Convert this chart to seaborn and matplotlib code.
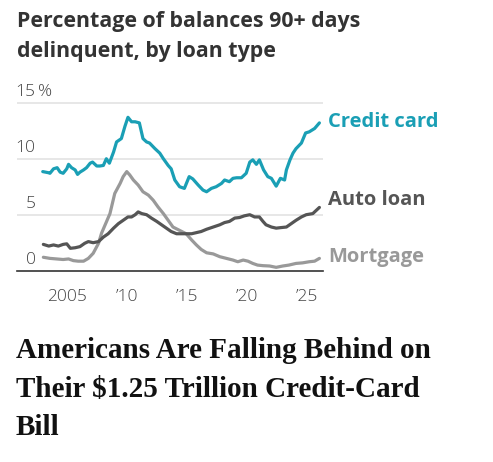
import matplotlib
matplotlib.use("Agg")
import matplotlib.pyplot as plt
import seaborn as sns
import pandas as pd

# === datos (% de saldos con 90+ días de mora)
credit_years = [2003.0, 2003.48, 2003.6, 2003.9, 2004.2, 2004.45, 2004.7, 2005.0, 2005.15, 2005.4,
                2005.7, 2005.9, 2006.1, 2006.4, 2006.65, 2006.95, 2007.15, 2007.5, 2007.75, 2008.05,
                2008.3, 2008.55, 2008.9, 2009.15, 2009.55, 2009.85, 2010.1, 2010.4, 2010.7, 2011.05,
                2011.35, 2011.65, 2011.9, 2012.35, 2012.75, 2013.05, 2013.45, 2013.7, 2014.0, 2014.4,
                2014.8, 2015.2, 2015.5, 2015.95, 2016.35, 2016.65, 2017.05, 2017.45, 2017.9, 2018.15,
                2018.55, 2018.85, 2019.15, 2019.55, 2019.95, 2020.25, 2020.5, 2020.8, 2021.05, 2021.4,
                2021.75, 2022.05, 2022.45, 2022.8, 2023.15, 2023.3, 2023.6, 2023.85, 2024.1, 2024.55,
                2024.9, 2025.2, 2025.65, 2026.05]
credit_card = [8.85, 8.75, 8.7, 9.1, 9.2, 8.8, 8.7, 9.1, 9.5, 9.2,
               9.0, 8.6, 8.8, 9.0, 9.2, 9.6, 9.7, 9.35, 9.35, 9.4,
               10.0, 9.6, 10.6, 11.5, 11.8, 12.9, 13.7, 13.3, 13.3, 13.2,
               11.8, 11.5, 11.4, 10.9, 10.5, 10.0, 9.4, 9.1, 8.1, 7.5,
               7.35, 8.4, 8.2, 7.65, 7.2, 7.05, 7.35, 7.5, 7.8, 8.1,
               7.95, 8.25, 8.3, 8.3, 8.7, 9.7, 9.9, 9.5, 9.9, 9.0,
               8.4, 8.25, 7.55, 8.25, 8.1, 9.0, 9.9, 10.5, 10.9, 11.4,
               12.3, 12.4, 12.7, 13.2]

auto_years = [2003.05, 2003.5, 2003.9, 2004.3, 2004.7, 2005.0, 2005.3, 2005.7, 2006.1, 2006.5,
              2006.8, 2007.2, 2007.65, 2008.05, 2008.45, 2008.9, 2009.3, 2009.7, 2010.1, 2010.4,
              2010.7, 2010.95, 2011.25, 2011.65, 2012.05, 2012.5, 2012.9, 2013.3, 2013.7, 2014.15,
              2014.55, 2014.95, 2015.4, 2015.8, 2016.2, 2016.65, 2017.2, 2017.75, 2018.15, 2018.55,
              2019.0, 2019.4, 2019.8, 2020.25, 2020.65, 2021.05, 2021.35, 2021.6, 2022.05, 2022.45,
              2022.85, 2023.3, 2023.7, 2024.1, 2024.55, 2024.95, 2025.5, 2026.05]
auto_loan = [2.35, 2.2, 2.3, 2.2, 2.35, 2.4, 2.0, 2.05, 2.15, 2.45,
             2.6, 2.5, 2.6, 3.0, 3.3, 3.8, 4.2, 4.5, 4.8, 4.8,
             5.0, 5.25, 5.1, 5.0, 4.7, 4.4, 4.1, 3.8, 3.5, 3.3,
             3.3, 3.3, 3.3, 3.4, 3.5, 3.7, 3.9, 4.1, 4.3, 4.4,
             4.7, 4.75, 4.9, 5.0, 4.8, 4.8, 4.4, 4.1, 3.9, 3.8,
             3.85, 3.9, 4.2, 4.5, 4.8, 5.0, 5.1, 5.65]

mort_years = [2003.05, 2003.6, 2004.15, 2004.7, 2005.15, 2005.55, 2005.95, 2006.4, 2006.8, 2007.2,
              2007.65, 2007.9, 2008.2, 2008.6, 2009.0, 2009.45, 2009.7, 2010.0, 2010.25, 2010.55,
              2010.95, 2011.35, 2011.8, 2012.2, 2012.6, 2013.05, 2013.45, 2013.85, 2014.4, 2014.95,
              2015.4, 2015.8, 2016.2, 2016.65, 2017.2, 2017.75, 2018.3, 2018.85, 2019.25, 2019.7,
              2020.1, 2020.5, 2020.9, 2021.35, 2021.9, 2022.45, 2023.0, 2023.5, 2024.1, 2024.65,
              2025.2, 2025.65, 2026.05]
mortgage = [1.2, 1.1, 1.05, 1.0, 1.05, 0.9, 0.85, 0.85, 1.1, 1.55,
            2.45, 3.35, 4.1, 5.1, 6.9, 7.8, 8.4, 8.85, 8.55, 8.1,
            7.65, 7.05, 6.75, 6.3, 5.7, 5.1, 4.5, 3.9, 3.6, 3.3,
            2.75, 2.3, 1.9, 1.6, 1.5, 1.25, 1.1, 0.95, 0.8, 0.95,
            0.85, 0.65, 0.5, 0.45, 0.42, 0.3, 0.42, 0.5, 0.65, 0.7,
            0.8, 0.85, 1.1]

series_names = ["Mortgage", "Auto loan", "Credit card"]
series_colors = ["#999999", "#555555", "#1a9fb5"]
x_major = [2005, 2010, 2015, 2020, 2025]
x_labels = ["2005", "\u201910", "\u201915", "\u201920", "\u201925"]
y_ticks = [0, 5, 10, 15]

df = pd.concat([
    pd.DataFrame({"year": mort_years, "pct": mortgage, "tipo": "Mortgage"}),
    pd.DataFrame({"year": auto_years, "pct": auto_loan, "tipo": "Auto loan"}),
    pd.DataFrame({"year": credit_years, "pct": credit_card, "tipo": "Credit card"}),
])

sns.set_style("white")
plt.rcParams["font.family"] = ["Open Sans", "DejaVu Sans"]

W, H = 493, 462
fig = plt.figure(figsize=(W / 100, H / 100), dpi=100)
ax = fig.add_axes([16.7 / W, 191.3 / H, 306.3 / W, 170.2 / H])

for g in y_ticks[1:]:
    ax.axhline(g, color="#e3e3e3", lw=1.2, zorder=0)

sns.lineplot(data=df, x="year", y="pct", hue="tipo", hue_order=series_names,
             palette=dict(zip(series_names, series_colors)), estimator=None,
             lw=2.3, legend=False, ax=ax)

ax.set_xlim(2000.83, 2026.35)
ax.set_ylim(0, 15.2)
for s in ["top", "right", "left"]:
    ax.spines[s].set_visible(False)
ax.spines["bottom"].set_color("#333333")
ax.spines["bottom"].set_linewidth(1.2)

ax.set_xticks(x_major)
ax.set_xticklabels(x_labels)
ax.set_xticks(list(range(2004, 2027)), minor=True)
ax.tick_params(axis="x", which="major", length=7, width=1.2, color="#333333",
               labelsize=12.5, labelcolor="#444444", pad=6, direction="out")
ax.tick_params(axis="x", which="minor", length=4, width=1.0, color="#333333", direction="out")
ax.set_yticks([])
ax.set_xlabel("")
ax.set_ylabel("")
for lab in ax.get_xticklabels():
    lab.set_fontweight("light")

# etiquetas del eje y dentro del gráfico
for v in y_ticks:
    ax.text(0.062, v + 0.25, str(v), transform=ax.get_yaxis_transform(), ha="right", va="bottom",
            fontsize=12.5, color="#444444", fontweight="light")
ax.text(0.068, 15 + 0.25, "%", transform=ax.get_yaxis_transform(), ha="left", va="bottom",
        fontsize=12.5, color="#444444", fontweight="light")

# etiquetas de las series a la derecha
ax.text(2026.8, 13.3, "Credit card", color=series_colors[2], fontsize=14.5, fontweight="bold",
        va="center", ha="left", clip_on=False)
ax.text(2026.8, 6.3, "Auto loan", color=series_colors[1], fontsize=14.5, fontweight="bold",
        va="center", ha="left", clip_on=False)
ax.text(2026.8, 1.2, "Mortgage", color=series_colors[0], fontsize=14.5, fontweight="bold",
        va="center", ha="left", clip_on=False)

fig.text(17 / W, 1 - 11 / H, "Percentage of balances 90+ days\ndelinquent, by loan type",
         ha="left", va="top", fontsize=15.4, fontweight="bold", color="#333333", linespacing=1.58)

fig.text(16 / W, 1 - 337 / H, "Americans Are Falling Behind on\nTheir $1.25 Trillion Credit-Card\nBill",
         ha="left", va="top", fontsize=21, fontweight="bold", color="#111111",
         family=["Liberation Serif", "DejaVu Serif"], linespacing=1.55)

fig.savefig("out.png", dpi=100)
